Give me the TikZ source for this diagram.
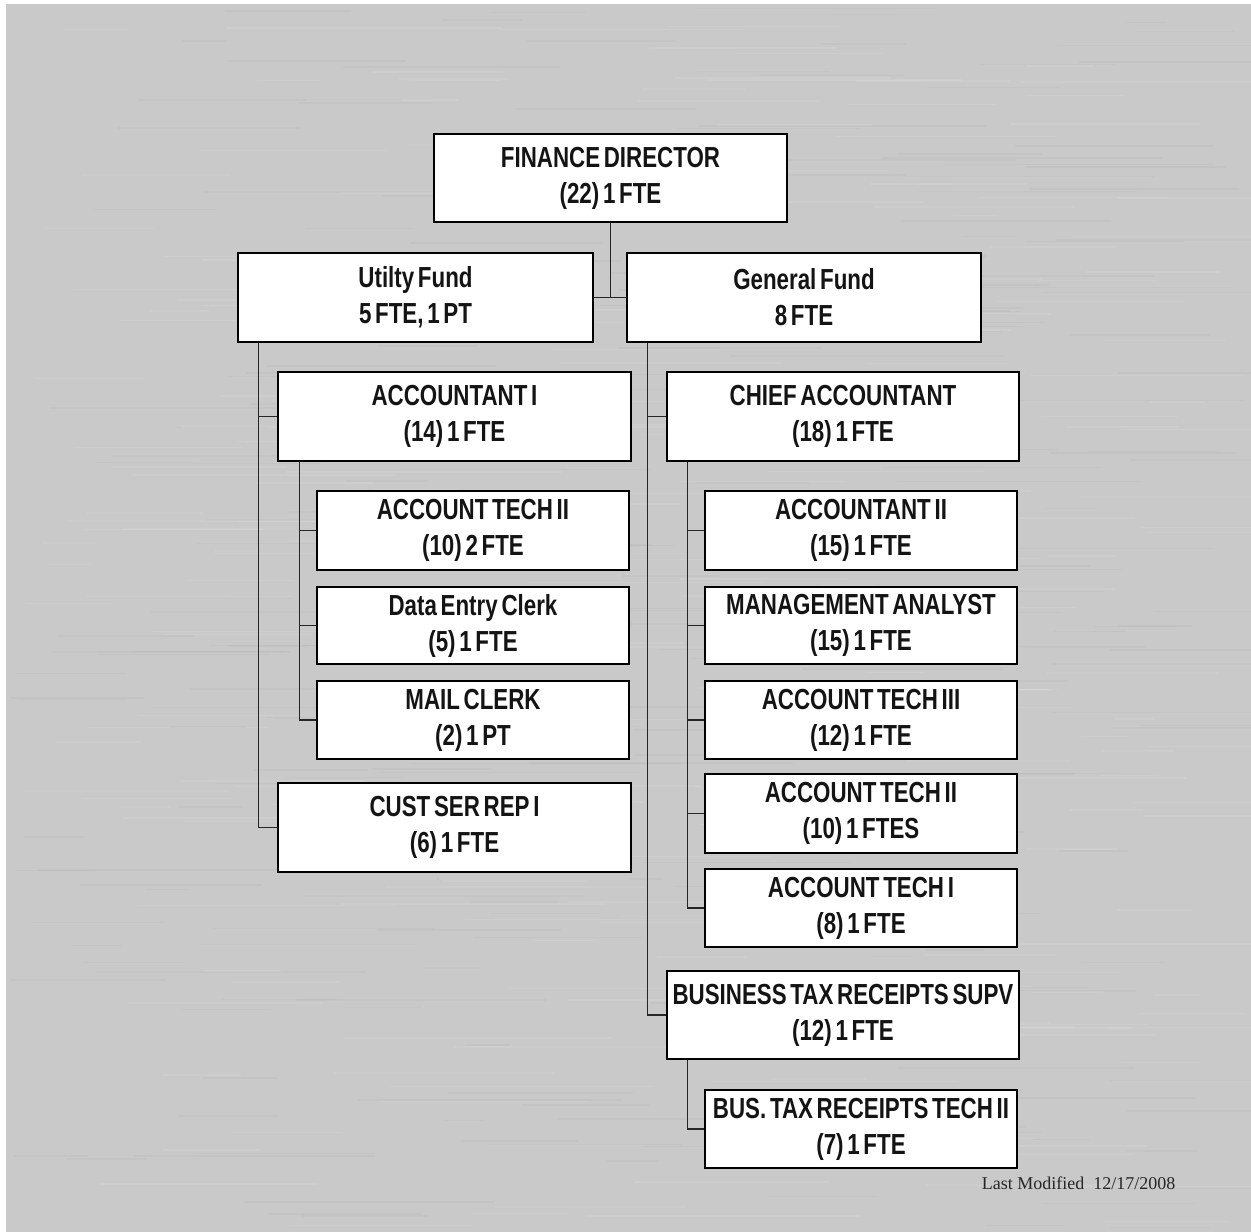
\documentclass[tikz,border=0pt]{standalone}
\usepackage{fontspec}
\newfontfamily\narrow[FakeStretch=0.77,WordSpace=0.6]{Liberation Sans}
\newfontfamily\timesf{Liberation Serif}
\definecolor{bggray}{HTML}{C9C9C9}
\begin{document}
\begin{tikzpicture}[x=1pt,y=-1pt,
  box/.style={draw=black,line width=1.4pt,fill=white,align=center,inner sep=0pt,
    font=\narrow\bfseries\fontsize{29}{36}\selectfont,text=black!92},
  wide/.style={box,minimum width=353pt,minimum height=89pt},
  narrowbox/.style={box,minimum width=312pt,minimum height=78pt},
  link/.style={draw=black!85,line width=1.3pt}]
\useasboundingbox (0,0) rectangle (1251,1232);
\fill[white] (0,0) rectangle (1251,1232);
\fill[bggray] (6,4) rectangle (1251,1232);
\pgfmathsetseed{7}
\foreach \i in {1,...,500}{
  \pgfmathsetmacro\yy{6+rnd*1224}
  \pgfmathsetmacro\xa{6+rnd*1150}
  \pgfmathsetmacro\ll{40+rnd*250}
  \pgfmathsetmacro\sh{rnd<0.5 ? 1 : 0}
  \ifdim\sh pt>0.5pt
    \draw[white,opacity=0.09,line width=1.5pt] (\xa,\yy) -- ++(\ll,0);
  \else
    \draw[black,opacity=0.025,line width=1.5pt] (\xa,\yy) -- ++(\ll,0);
  \fi
}
% nodes
\node[wide,minimum height=88pt] (fd) at (610.5,178) {FINANCE DIRECTOR\\(22) 1 FTE};
\node[wide,minimum width=355pt] (uf) at (415.5,297.5) {Utilty Fund\\5 FTE, 1 PT};
\node[wide,minimum width=354pt] (gf) at (804,297.5) {General Fund\\8 FTE};
\node[wide] (a1) at (454.5,416.5) {ACCOUNTANT I\\(14) 1 FTE};
\node[narrowbox,minimum height=79pt] (at2u) at (473,530.5) {ACCOUNT TECH II\\(10) 2 FTE};
\node[narrowbox,minimum height=77pt] (dec) at (473,625.5) {Data Entry Clerk\\(5) 1 FTE};
\node[narrowbox] (mc) at (473,720) {MAIL CLERK\\(2) 1 PT};
\node[wide] (csr) at (454.5,827.5) {CUST SER REP I\\(6) 1 FTE};
\node[wide,minimum width=352pt] (ca) at (843,416.5) {CHIEF ACCOUNTANT\\(18) 1 FTE};
\node[narrowbox,minimum height=79pt] (a2) at (861,530.5) {ACCOUNTANT II\\(15) 1 FTE};
\node[narrowbox,minimum height=77pt] (ma) at (861,625.5) {MANAGEMENT ANALYST\\(15) 1 FTE};
\node[narrowbox] (at3) at (861,720) {ACCOUNT TECH III\\(12) 1 FTE};
\node[narrowbox,minimum height=79pt] (at2g) at (861,813.5) {ACCOUNT TECH II\\(10) 1 FTES};
\node[narrowbox] (at1) at (861,908) {ACCOUNT TECH I\\(8) 1 FTE};
\node[wide,minimum width=352pt,minimum height=88pt] (bts) at (843,1015) {BUSINESS TAX RECEIPTS SUPV\\(12) 1 FTE};
\node[narrowbox] (btt) at (861,1129) {BUS. TAX RECEIPTS TECH II\\(7) 1 FTE};
\node[font=\timesf\fontsize{18}{20}\selectfont,text=black!85,inner sep=0pt] (lm) at (1078.5,1183) {Last Modified\ \ 12/17/2008};
% connectors
\draw[link] (fd.south) -- (fd.south |- uf.east);
\draw[link] (uf.east) -- (gf.west);
\draw[link] ([xshift=21pt]uf.south west) |- (a1.west);
\draw[link] ([xshift=21pt]uf.south west) |- (csr.west);
\draw[link] ([xshift=22pt]a1.south west) |- (at2u.west);
\draw[link] ([xshift=22pt]a1.south west) |- (dec.west);
\draw[link] ([xshift=22pt]a1.south west) |- (mc.west);
\draw[link] ([xshift=21pt]gf.south west) |- (ca.west);
\draw[link] ([xshift=21pt]gf.south west) |- (bts.west);
\foreach \n in {a2,ma,at3,at2g,at1}
  \draw[link] ([xshift=21pt]ca.south west) |- (\n.west);
\draw[link] ([xshift=21pt]bts.south west) |- (btt.west);
\end{tikzpicture}
\end{document}
